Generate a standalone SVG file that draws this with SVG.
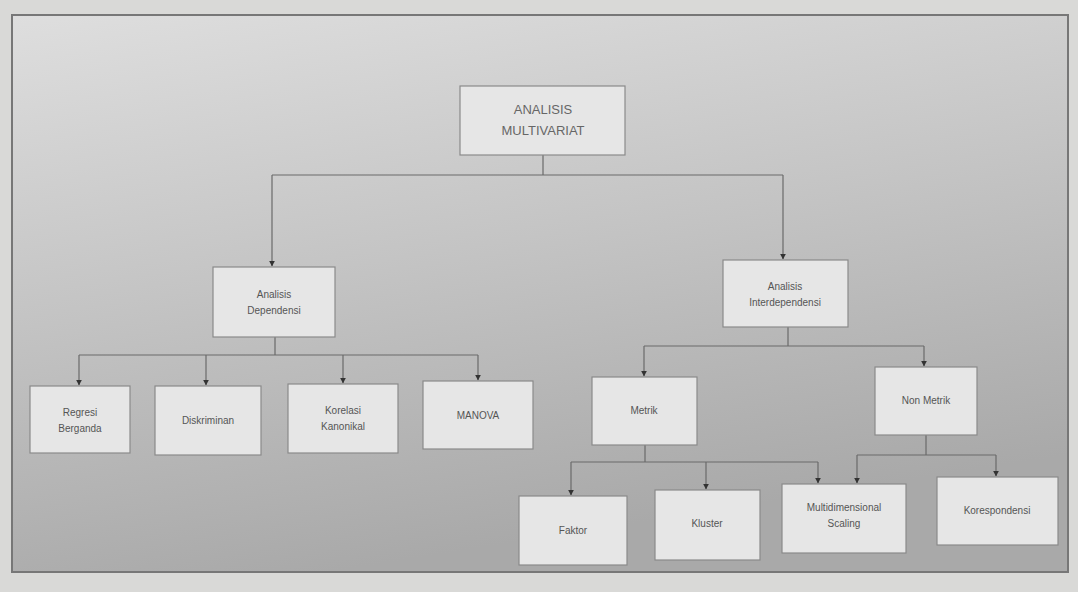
<svg xmlns="http://www.w3.org/2000/svg" width="1078" height="592" viewBox="0 0 1078 592">
<defs>
<linearGradient id="bg" x1="0" y1="0" x2="0.3" y2="1">
<stop offset="0" stop-color="#dedede"/>
<stop offset="0.5" stop-color="#c4c4c4"/>
<stop offset="1" stop-color="#a9a9a9"/>
</linearGradient>
<marker id="ah" viewBox="0 0 10 10" refX="9" refY="5" markerWidth="5" markerHeight="5" orient="auto">
<path d="M0,0 L10,5 L0,10 z" fill="#333"/>
</marker>
<style>
.box{fill:#e6e6e6;stroke:#8a8a8a;stroke-width:1.2}
.t{font-family:"Liberation Sans",Arial,sans-serif;font-size:10px;fill:#555;text-anchor:middle}
.tt{font-family:"Liberation Sans",Arial,sans-serif;font-size:13px;fill:#666;text-anchor:middle}
.c{fill:none;stroke:#6a6a6a;stroke-width:1.2}
.a{marker-end:url(#ah)}
</style>
</defs>
<rect x="0" y="0" width="1078" height="592" fill="#d9d9d7"/>
<rect x="12" y="15" width="1056" height="557" fill="url(#bg)" stroke="#777" stroke-width="2"/>
<g id="connectors">
<path class="c" d="M543,155 V175 M272,175 H783"/>
<path class="c a" d="M272,175 V266"/>
<path class="c a" d="M783,175 V259"/>
<path class="c" d="M275,337 V355 M79,355 H478"/>
<path class="c a" d="M79,355 V385"/>
<path class="c a" d="M206,355 V385"/>
<path class="c a" d="M343,355 V383"/>
<path class="c a" d="M478,355 V380"/>
<path class="c" d="M788,327 V346 M644,346 H924"/>
<path class="c a" d="M644,346 V376"/>
<path class="c a" d="M924,346 V366"/>
<path class="c" d="M645,445 V462 M571,462 H818"/>
<path class="c a" d="M571,462 V495"/>
<path class="c a" d="M706,462 V489"/>
<path class="c a" d="M818,462 V483"/>
<path class="c" d="M926,435 V455 M857,455 H996"/>
<path class="c a" d="M857,455 V483"/>
<path class="c a" d="M996,455 V476"/>
</g>
<g id="n-multivariat"><rect class="box" x="460" y="86" width="165" height="69"/><text class="tt" x="543" y="114">ANALISIS</text><text class="tt" x="543" y="135">MULTIVARIAT</text></g>
<g id="n-dependensi"><rect class="box" x="213" y="267" width="122" height="70"/><text class="t" x="274" y="298">Analisis</text><text class="t" x="274" y="314">Dependensi</text></g>
<g id="n-interdependensi"><rect class="box" x="723" y="260" width="125" height="67"/><text class="t" x="785" y="290">Analisis</text><text class="t" x="785" y="306">Interdependensi</text></g>
<g id="n-regresi"><rect class="box" x="30" y="386" width="100" height="67"/><text class="t" x="80" y="416">Regresi</text><text class="t" x="80" y="432">Berganda</text></g>
<g id="n-diskriminan"><rect class="box" x="155" y="386" width="106" height="69"/><text class="t" x="208" y="424">Diskriminan</text></g>
<g id="n-korelasi"><rect class="box" x="288" y="384" width="110" height="69"/><text class="t" x="343" y="414">Korelasi</text><text class="t" x="343" y="430">Kanonikal</text></g>
<g id="n-manova"><rect class="box" x="423" y="381" width="110" height="68"/><text class="t" x="478" y="419">MANOVA</text></g>
<g id="n-metrik"><rect class="box" x="592" y="377" width="105" height="68"/><text class="t" x="644" y="414">Metrik</text></g>
<g id="n-nonmetrik"><rect class="box" x="875" y="367" width="102" height="68"/><text class="t" x="926" y="404">Non Metrik</text></g>
<g id="n-faktor"><rect class="box" x="519" y="496" width="108" height="69"/><text class="t" x="573" y="534">Faktor</text></g>
<g id="n-kluster"><rect class="box" x="655" y="490" width="105" height="70"/><text class="t" x="707" y="527">Kluster</text></g>
<g id="n-multidim"><rect class="box" x="782" y="484" width="124" height="69"/><text class="t" x="844" y="511">Multidimensional</text><text class="t" x="844" y="527">Scaling</text></g>
<g id="n-korespondensi"><rect class="box" x="937" y="477" width="121" height="68"/><text class="t" x="997" y="514">Korespondensi</text></g>
</svg>
